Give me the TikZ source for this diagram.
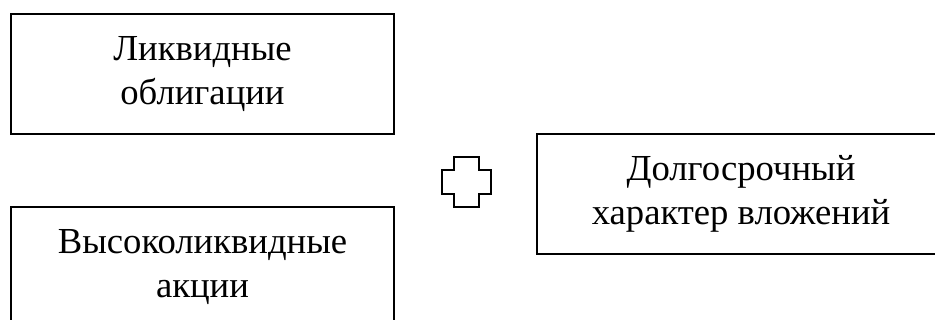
\documentclass[tikz,border=0pt]{standalone}
\usepackage{fontspec}
\setmainfont{Liberation Serif}
\begin{document}
\begin{tikzpicture}[x=0.75pt,y=-0.75pt,
  boxline/.style={draw=black, line width=1.2pt},
  box/.style={boxline, inner sep=0pt, align=center,
    minimum height=90pt, font=\fontsize{27.5}{33}\selectfont},
  boxtext/.style={inner sep=0pt, align=center, font=\fontsize{27.5}{33}\selectfont}]
\useasboundingbox (0,0) rectangle (935,320);
\node[box, minimum width=287.25pt] (liq) at (202.5,74) {Ликвидные\\облигации};
\node[boxtext] (high) at (202.5,267) {Высоколиквидные\\акции};
\draw[boxline] (11,320) -- (11,207) -- (394,207) -- (394,320);
\node[boxtext] (long) at (741,194) {Долгосрочный\\характер вложений};
\draw[boxline] (935,134) -- (537,134) -- (537,254) -- (935,254);
\coordinate (plus) at (466.5,182);
\draw[boxline] (454,157) -- (479,157) -- (479,170) -- (491,170) -- (491,194)
  -- (479,194) -- (479,207) -- (454,207) -- (454,194) -- (442,194)
  -- (442,170) -- (454,170) -- cycle;
\end{tikzpicture}
\end{document}
